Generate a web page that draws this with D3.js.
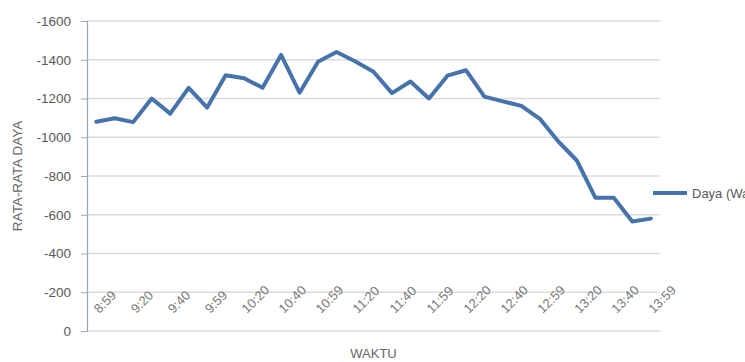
<!DOCTYPE html>
<html>
<head>
<meta charset="utf-8">
<script src="https://cdn.jsdelivr.net/npm/d3@7"></script>
<style>
  html, body { margin: 0; padding: 0; background: #fff; overflow: hidden; }
  svg { display: block; }
  text { font-family: "Liberation Sans", Arial, sans-serif; fill: #595959; }
</style>
</head>
<body>
<svg id="chart" width="745" height="362"></svg>
<script>
// ---- data ----
const times = ["8:59","9:09","9:20","9:30","9:40","9:50","9:59","10:09","10:20","10:30",
               "10:40","10:50","10:59","11:09","11:20","11:30","11:40","11:50","11:59","12:09",
               "12:20","12:30","12:40","12:50","12:59","13:09","13:20","13:30","13:40","13:50","13:59"];
const daya = [-1080,-1098,-1078,-1200,-1122,-1255,-1153,-1320,-1305,-1255,
              -1425,-1230,-1390,-1440,-1392,-1338,-1228,-1288,-1200,-1318,
              -1346,-1210,-1185,-1162,-1095,-978,-880,-688,-688,-565,-580];
const yTicks = [0,-200,-400,-600,-800,-1000,-1200,-1400,-1600];
const seriesName = "Daya (Watt)";
const yTitle = "RATA-RATA DAYA";
const xTitle = "WAKTU";

// ---- layout ----
const svg = d3.select("#chart");
const mL = 87, mR = 660, mT = 21, mB = 331;

const x = d3.scaleBand().domain(times).range([mL, mR]).paddingInner(0).paddingOuter(0);
const y = d3.scaleLinear().domain([0, -1600]).range([mB, mT]);
const cx = d => x(d) + x.bandwidth() / 2;

// gridlines
svg.append("g").selectAll("line").data(yTicks).join("line")
  .attr("x1", mL).attr("x2", mR)
  .attr("y1", d => y(d)).attr("y2", d => y(d))
  .attr("stroke", "#dcdcdc").attr("stroke-width", 1.5);

// y axis
const yAxis = d3.axisLeft(y).tickValues(yTicks).tickSize(6).tickPadding(10).tickFormat(d3.format("d"));
const ga = svg.append("g").attr("transform", `translate(${mL},0)`).call(yAxis);
ga.select(".domain").attr("stroke", "#9aa6b6").attr("stroke-width", 1.2);
ga.selectAll(".tick line").attr("stroke", "#9aa6b6");
ga.selectAll(".tick text").style("font-size", "13.5px").attr("fill", "#5f5f5f")
  .style("font-family", "'Liberation Sans', Arial, sans-serif")
  .text(d => d === 0 ? "0" : "-" + Math.abs(d));

// x labels (every other category)
const labelTimes = times.filter((d, i) => i % 2 === 0);
svg.append("g").selectAll("text").data(labelTimes).join("text")
  .attr("transform", d => `translate(${cx(d) + 3},${314}) rotate(-45)`)
  .attr("text-anchor", "start")
  .style("font-size", "13px")
  .style("fill", "#7a7a7a")
  .text(d => d);

// line
const line = d3.line().x((d, i) => cx(times[i])).y(d => y(d));
svg.append("path").datum(daya)
  .attr("d", line)
  .attr("fill", "none")
  .attr("stroke", "#4673ab")
  .attr("stroke-width", 4)
  .attr("stroke-linejoin", "round")
  .attr("stroke-linecap", "round");

// axis titles
svg.append("text")
  .attr("transform", `translate(22,${(mT + mB) / 2}) rotate(-90)`)
  .attr("text-anchor", "middle")
  .style("font-size", "13.5px")
  .style("fill", "#666")
  .text(yTitle);

svg.append("text")
  .attr("x", (mL + mR) / 2).attr("y", 358)
  .attr("text-anchor", "middle")
  .style("font-size", "13px")
  .style("fill", "#666")
  .text(xTitle);

// legend
svg.append("line")
  .attr("x1", 653).attr("x2", 687).attr("y1", 193).attr("y2", 193)
  .attr("stroke", "#4673ab").attr("stroke-width", 4);
svg.append("text")
  .attr("x", 692).attr("y", 197.5)
  .style("font-size", "13px")
  .text(seriesName);
</script>
</body>
</html>
